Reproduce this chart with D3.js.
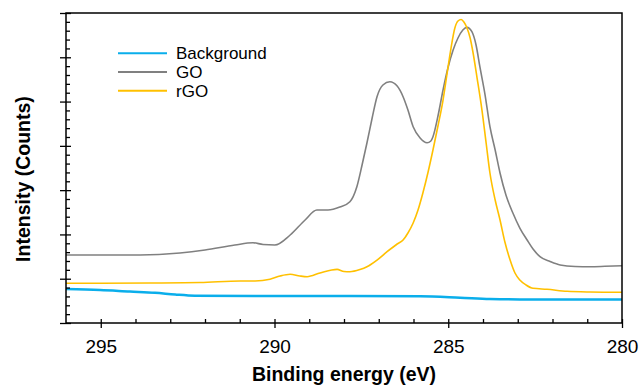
<!DOCTYPE html>
<html><head><meta charset="utf-8">
<script src="https://cdn.jsdelivr.net/npm/d3@7"></script>
<style>body{margin:0;background:#fff;}svg{display:block;font-family:"Liberation Sans",Arial,sans-serif;}</style>
</head><body><svg id="c" width="640" height="388"></svg>
<script>
// Binding energy (eV) and intensity (arb. counts, scaled)
const goEnergy = [296,293.87,292.72,292.0,291.14,290.62,290.33,289.99,289.55,289.12,288.78,288.46,288.12,287.83,287.63,287.48,287.34,287.19,287.05,286.88,286.68,286.47,286.30,286.16,286.01,285.81,285.61,285.50,285.44,285.29,285.15,285.01,284.86,284.72,284.58,284.46,284.32,284.20,284.09,283.94,283.80,283.65,283.51,283.34,283.14,282.94,282.73,282.56,282.36,282.07,281.78,281.35,280.92,280.49,280];
const goValues = [1.535,1.535,1.58,1.648,1.761,1.813,1.772,1.761,1.987,2.326,2.551,2.551,2.619,2.739,3.077,3.567,4.064,4.629,5.110,5.374,5.448,5.35,5.110,4.81,4.432,4.177,4.071,4.11,4.206,4.696,5.261,5.757,6.164,6.435,6.615,6.676,6.577,6.277,5.787,5.148,4.432,3.906,3.387,2.890,2.484,2.145,1.874,1.671,1.497,1.389,1.310,1.276,1.271,1.28,1.294];
const rgoEnergy = [296,293.58,292.14,290.99,290.56,290.13,289.84,289.55,289.27,289.06,288.69,288.20,288.0,287.83,287.54,287.34,287.05,286.76,286.47,286.30,286.16,286.01,285.87,285.73,285.58,285.44,285.29,285.15,285.04,284.92,284.81,284.72,284.63,284.55,284.46,284.37,284.29,284.17,284.03,283.91,283.80,283.65,283.51,283.37,283.22,283.08,282.94,282.76,282.56,282.16,281.58,280.92,280];
const rgoValues = [0.896,0.903,0.914,0.948,0.948,0.987,1.061,1.10,1.061,1.045,1.129,1.212,1.163,1.158,1.208,1.271,1.422,1.61,1.784,1.874,2.032,2.258,2.551,2.935,3.409,3.906,4.471,5.035,5.600,6.209,6.661,6.819,6.853,6.796,6.661,6.435,6.119,5.532,4.809,4.064,3.387,2.777,2.326,1.829,1.422,1.129,0.971,0.858,0.783,0.761,0.716,0.70,0.693];
const bgEnergy = [296,295.02,294.16,293.44,292.86,292.29,290.56,287.83,285.81,284.66,283.80,282.94,280];
const bgValues = [0.768,0.745,0.711,0.684,0.643,0.616,0.610,0.610,0.603,0.571,0.542,0.533,0.533];
const xTicks = [295,290,285,280];
const seriesNames = ["Background","GO","rGO"];
const seriesColors = ["#0AAEEB","#808080","#FFC000"];

const svg = d3.select("#c");
const L=66,R=622,T=13,B=323;
const x = d3.scaleLinear().domain([296,280]).range([L,R]);
const y = d3.scaleLinear().domain([0,7]).range([B,T]);

svg.append("clipPath").attr("id","clip").append("rect").attr("x",L).attr("y",T).attr("width",R-L).attr("height",B-T);

const line = d3.line().x(d=>x(d[0])).y(d=>y(d[1])).curve(d3.curveMonotoneX);
const series = [
  {name:seriesNames[0], e:bgEnergy, v:bgValues, c:seriesColors[0], w:2.5},
  {name:seriesNames[1], e:goEnergy, v:goValues, c:seriesColors[1], w:1.6},
  {name:seriesNames[2], e:rgoEnergy, v:rgoValues, c:seriesColors[2], w:1.6}
];
const g = svg.append("g").attr("clip-path","url(#clip)");
[series[1],series[2],series[0]].forEach(s=>{
  g.append("path").datum(s.e.map((e,i)=>[e,s.v[i]]))
   .attr("d",line).attr("fill","none").attr("stroke",s.c).attr("stroke-width",s.w);
});

svg.append("rect").attr("x",L).attr("y",T).attr("width",R-L).attr("height",B-T)
  .attr("fill","none").attr("stroke","#000").attr("stroke-width",1.5);

const xMinor = d3.range(281,296,1).filter(v=>!xTicks.includes(v));
svg.append("g").attr("transform",`translate(0,${B})`)
  .call(d3.axisBottom(x).tickValues(xMinor).tickSize(-4).tickFormat(""))
  .call(a=>a.select(".domain").remove())
  .selectAll("line").attr("stroke-width",1.3);
const xa = svg.append("g").attr("transform",`translate(0,${B})`)
  .call(d3.axisBottom(x).tickValues(xTicks).tickSize(5).tickFormat(d3.format("d")));
xa.select(".domain").remove();
xa.selectAll("line").attr("y1",-4).attr("y2",5).attr("stroke-width",1.3);
xa.selectAll("text").attr("font-size",19).attr("fill","#000").attr("dy",null).attr("y",30)
  .attr("font-family","Liberation Sans, Arial, sans-serif");

const yMinor = d3.range(0,7.001,0.2).map(v=>+v.toFixed(1)).filter(v=>Math.abs(v-Math.round(v))>1e-6);
svg.append("g").attr("transform",`translate(${L},0)`)
  .call(d3.axisLeft(y).tickValues(yMinor).tickSize(-4).tickFormat(""))
  .call(a=>a.select(".domain").remove())
  .selectAll("line").attr("stroke-width",1.3);
const ya = svg.append("g").attr("transform",`translate(${L},0)`)
  .call(d3.axisLeft(y).tickValues(d3.range(0,8)).tickSize(6).tickFormat(""));
ya.select(".domain").remove();
ya.selectAll("line").attr("x1",5).attr("x2",-6).attr("stroke-width",1.3);

svg.append("text").attr("x",(L+R)/2).attr("y",381).attr("text-anchor","middle")
  .attr("font-size",19.5).attr("font-weight","bold").text("Binding energy (eV)");
svg.append("text").attr("transform","translate(30,179) rotate(-90)").attr("text-anchor","middle")
  .attr("font-size",19.5).attr("font-weight","bold").text("Intensity (Counts)");

const lg = svg.append("g");
series.forEach((s,i)=>{
  const yy = 53.3 + i*18.7;
  lg.append("line").attr("x1",118).attr("x2",167).attr("y1",yy).attr("y2",yy).attr("stroke",s.c).attr("stroke-width",2);
  lg.append("text").attr("x",176).attr("y",yy+6).attr("font-size",17).text(s.name);
});
</script></body></html>
